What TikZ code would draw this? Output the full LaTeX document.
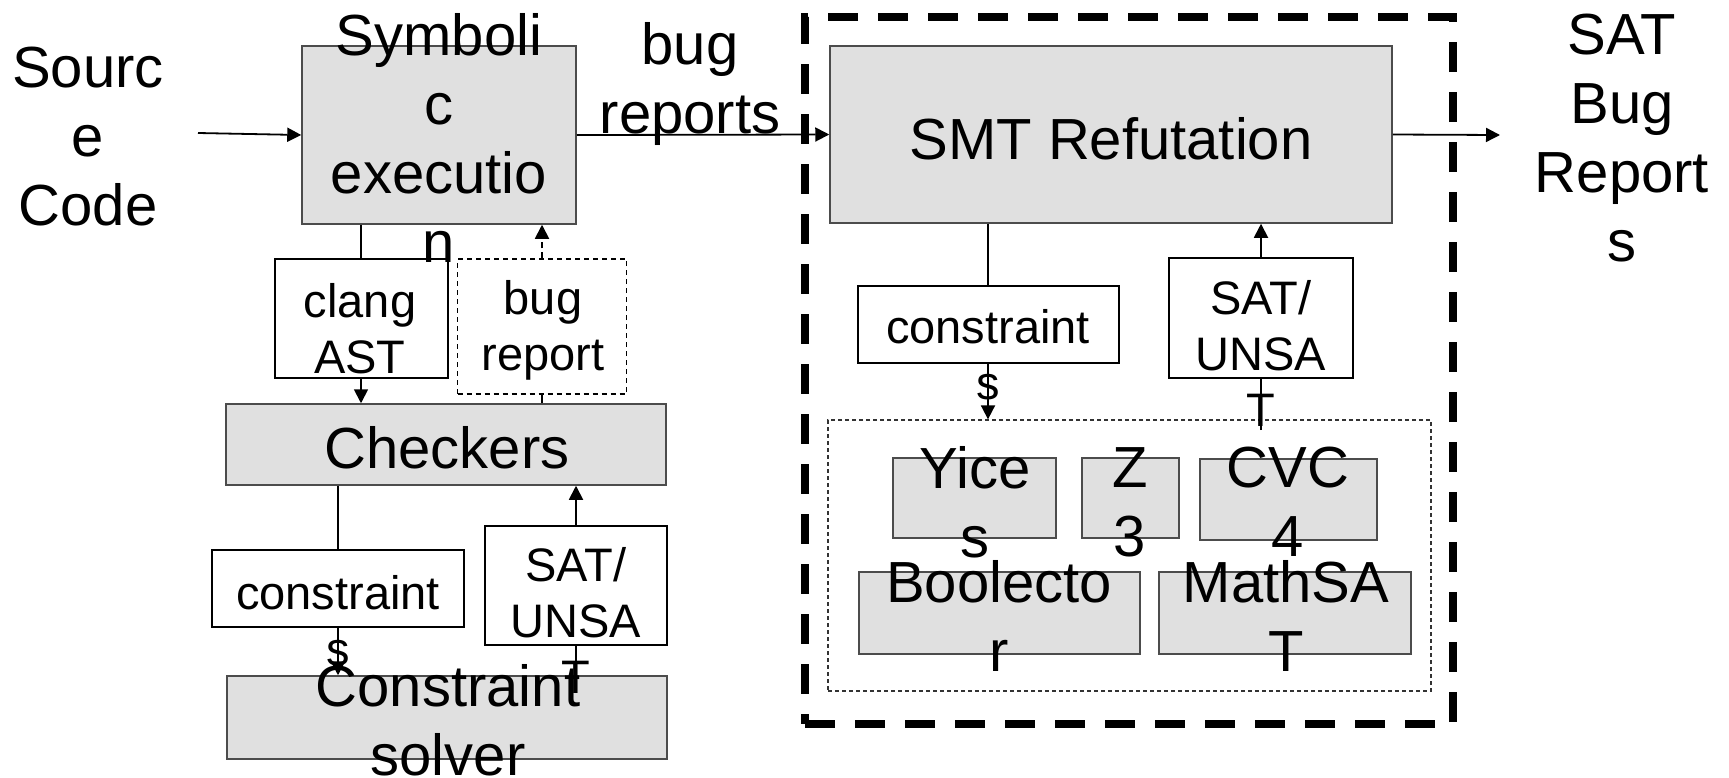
\documentclass[tikz,border=0pt]{standalone}
\usepackage{fontspec}
\setmainfont{Liberation Sans}
\usetikzlibrary{arrows.meta}
\begin{document}
\begin{tikzpicture}[x=1pt,y=-1pt,
  graybox/.style={draw=black!70, fill=black!12, line width=1.5pt, inner sep=0pt},
  whitebox/.style={draw=black, fill=white, line width=2pt, inner sep=0pt},
  dbox/.style={draw=black, fill=white, line width=1.5pt, dash pattern=on 5pt off 4pt, inner sep=0pt},
  dotbox/.style={draw=black!80, line width=1.3pt, dash pattern=on 4pt off 3pt, inner sep=0pt},
  groupbox/.style={draw=black, line width=7.5pt, dash pattern=on 30pt off 20pt, inner sep=0pt},
  big/.style={font=\fontsize{58}{69}\selectfont, align=center, inner sep=0pt},
  small/.style={font=\fontsize{47}{56}\selectfont, align=center, inner sep=0pt},
  conn/.style={line width=1.8pt},
  arr/.style={conn, -{Triangle[length=14pt,width=14pt]}},
]
\useasboundingbox (0,0) rectangle (1729,777);
% boxes
\node[groupbox, minimum width=648pt, minimum height=707pt] (grp) at (1129,370.5) {};
\node[graybox, minimum width=274pt, minimum height=178pt] (sym) at (439,135) {};
\node[graybox, minimum width=562pt, minimum height=177pt] (smt) at (1111,134.5) {};
\node[whitebox, minimum width=173pt, minimum height=119pt] (clang) at (361,318.5) {};
\node[dbox, minimum width=169pt, minimum height=135pt] (bugrep) at (542,326.5) {};
\node[graybox, minimum width=440pt, minimum height=81pt] (chk) at (446,444.5) {};
\node[whitebox, minimum width=252pt, minimum height=77pt] (consL) at (338,588.5) {};
\node[whitebox, minimum width=182pt, minimum height=119pt] (satL) at (576,585.5) {};
\node[graybox, minimum width=440pt, minimum height=83pt] (solver) at (447,717.5) {};
\node[whitebox, minimum width=261pt, minimum height=77pt] (consR) at (988,324.5) {};
\node[whitebox, minimum width=184pt, minimum height=120pt] (satR) at (1261,318) {};
\node[dotbox, minimum width=603pt, minimum height=271pt] (dotted) at (1129.5,555.5) {};
\node[graybox, minimum width=163pt, minimum height=80pt] (yices) at (974.5,498) {};
\node[graybox, minimum width=97pt, minimum height=80pt] (z3) at (1130.5,498) {};
\node[graybox, minimum width=177pt, minimum height=81pt] (cvc) at (1288.5,499.5) {};
\node[graybox, minimum width=281pt, minimum height=82pt] (bool) at (999.5,613) {};
\node[graybox, minimum width=252pt, minimum height=82pt] (math) at (1285,613) {};
% connectors
\coordinate (srcend) at (198,133);
\coordinate (out) at (1500,135);
\coordinate (satRin) at (1261,430);
\draw[arr] (srcend) -- (sym.west);
\draw[arr] (sym.east) -- (smt.west);
\draw[arr] (smt.east) -- (out);
\draw[conn] (sym.south -| clang.north) -- (clang.north);
\draw[arr] (clang.south) -- (clang.south |- chk.north);
\draw[conn] (chk.north -| bugrep.south) -- (bugrep.south);
\draw[arr, dash pattern=on 6pt off 4pt] (bugrep.north) -- (bugrep.north |- sym.south);
\draw[conn] (chk.south -| consL.north) -- (consL.north);
\draw[arr] (consL.south) -- (consL.south |- solver.north);
\draw[conn] (solver.north -| satL.south) -- (satL.south);
\draw[arr] (satL.north) -- (satL.north |- chk.south);
\draw[conn] (smt.south -| consR.north) -- (consR.north);
\draw[arr] (consR.south) -- (consR.south |- dotted.north);
\draw[conn] (satRin) -- (satR.south);
\draw[arr] (satR.north) -- (satR.north |- smt.south);
% texts
\node[big] (srct) at (88,137) {Sourc\\e\\Code};
\node[big] (symt) at (439,138) {Symboli\\c\\executio\\n};
\node[big] (bugt) at (690,84) {bug\\reports};
\node[big] (smtt) at (1111,139) {SMT Refutation};
\node[big] (satbt) at (1622,138) {SAT\\Bug\\Report\\s};
\node[small] (clangt) at (360,329) {clang\\AST};
\node[small] (bugrept) at (543,330) {bug\\report};
\node[big] (chkt) at (447,448) {Checkers};
\node[small] (consLt) at (338,621) {constraint\\s};
\node[small] (satLt) at (576,620) {SAT/\\UNSA\\T};
\node[big] (solvt) at (448,720) {Constraint\\solver};
\node[small] (consRt) at (988,355) {constraint\\s};
\node[small] (satRt) at (1261,353) {SAT/\\UNSA\\T};
\node[big] (yt) at (975,502) {Yice\\s};
\node[big] (zt) at (1130,502) {Z\\3};
\node[big] (ct) at (1288,502) {CVC\\4};
\node[big] (bt) at (999,616) {Boolecto\\r};
\node[big] (mt) at (1286,616) {MathSA\\T};
\end{tikzpicture}
\end{document}
